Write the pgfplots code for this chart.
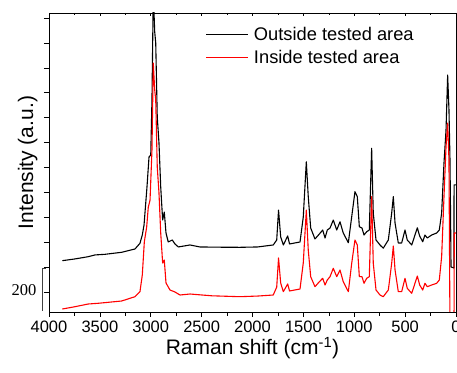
\documentclass[border=0pt]{standalone}
\usepackage{pgfplots}
\pgfplotsset{compat=1.18}
\usepackage{fontspec}
\setmainfont{Liberation Sans}
\newfontfamily\seriffont{Liberation Serif}
\begin{document}
\begin{tikzpicture}
\begin{axis}[name=ax, scale only axis, width=407pt, height=299pt,
  x dir=reverse, xmin=0, xmax=4000, ymin=-80, ymax=1120,
  xtick={0,500,...,4000}, minor xtick={250,750,...,3750},
  ytick={0,100,...,1100}, yticklabels={},
  xtick pos=bottom, ytick pos=left, tick align=outside,
  major tick length=5pt, minor tick length=4pt,
  /pgf/number format/assume math mode=true,
  /pgf/number format/1000 sep={},
  tick label style={font=\fontsize{16.5}{18}\selectfont},
  xticklabel style={yshift=0pt},
  xlabel={Raman shift (cm\textsuperscript{-1})}, ylabel={Intensity (a.u.)},
  label style={font=\fontsize{21}{24}\selectfont},
  xlabel style={yshift=2pt},
  ylabel style={yshift=-4pt},
  legend style={draw=none, fill=none, at={(0.385,0.96)}, anchor=north west,
    font=\fontsize{18.3}{21}\selectfont, row sep=4pt, inner sep=0pt},
  legend cell align=left,
  legend image code/.code={\draw[#1] (0pt,0pt) -- (42pt,0pt); \path (45pt,0pt);},
  axis line style={line width=0.7pt},
  every tick/.style={line width=0.6pt},
]
\addplot[black, line width=1.1pt, line join=round] coordinates {
(3869,126) (3744,133) (3614,142) (3548,149) (3450,151.5) (3286,159.6) (3155,172.8)
(3106,195.7) (3083,229) (3066,269) (3037,421.6) (3017,542) (3000,550) (2988,771)
(2975,1200) (2961,1044) (2951,999.5) (2936,702.5) (2919,598) (2902,421.6) (2883,289)
(2867,321) (2850,237) (2828,201) (2788,209) (2762,193) (2729,181) (2614,189) (2516,181)
(2300,180) (2123,179.6) (1950,181) (1796,189) (1762,209) (1744,329) (1723,221) (1697,189)
(1654,225) (1636,193) (1533,201) (1501,301) (1471,523) (1452,383) (1428,257) (1386,213)
(1343,233) (1310,249) (1287,217) (1265,249) (1238,257) (1206,289) (1172,249) (1140,282)
(1108,237) (1058,198) (1025,302) (993,403) (970,383) (950,262) (924,257) (904,229)
(878,242) (852,249) (829,577) (813,317) (786,209) (747,189) (715,176) (665,209)
(632,317) (616,383) (599,277) (567,197) (534,197) (501,249) (479,209) (435,189)
(380,258) (357,225) (327,202) (305,229) (282,217) (239,229) (190,237) (164,249)
(141,317) (118,518) (98,650) (82,871) (69,731) (59,530) (52,249) (49,100.6)
(20,96.6) (19,430) (0,430)
};
\addlegendentry{Outside tested area}
\addplot[red, line width=1.1pt, line join=round] coordinates {
(3869,-68) (3744,-58.7) (3614,-47.9) (3515,-45) (3286,-35.9) (3155,-18.6) (3106,1.5)
(3083,68.5) (3063,202) (3040,261) (3024,341) (3007,369) (2988,570) (2975,919)
(2961,811) (2951,771) (2936,502) (2919,397.5) (2902,237) (2883,116.6) (2867,128.7)
(2850,36.4) (2811,8.3) (2762,0.3) (2713,-11.8) (2614,-7.8) (2400,-15) (2123,-18.6)
(1950,-16) (1796,-11.8) (1762,20) (1744,136.7) (1723,36.4) (1697,1.5) (1654,32.4)
(1636,4.3) (1533,12.3) (1501,116.6) (1471,329) (1452,168.8) (1428,61.7) (1386,21.5)
(1343,41.6) (1310,55.2) (1287,28.4) (1265,48.4) (1238,61.7) (1206,95.4) (1172,61.7)
(1140,88.5) (1108,41.6) (1058,1.5) (1025,115.4) (993,209) (970,189) (950,61.7)
(924,61.7) (904,35.2) (878,55.2) (852,61.7) (829,383) (813,115.4) (786,8.3)
(747,-11.8) (715,-18.6) (665,8.3) (632,115.4) (616,184.9) (599,88.5) (567,1.5)
(534,1.5) (501,55.2) (479,15.1) (435,-5) (380,64.5) (357,28.4) (327,8.3) (305,35.2)
(282,21.5) (239,28.4) (190,35.2) (164,48.4) (141,141.9) (118,382.7) (98,583)
(82,678) (69,530) (59,-150) (52,-200) (20,-200) (17,237) (0,237)
};
\addlegendentry{Inside tested area}
\end{axis}
\begin{axis}[at={(ax.south west)}, anchor=south west, scale only axis,
  width=407pt, height=299pt, x dir=reverse, xmin=0, xmax=4000, ymin=-80, ymax=1120,
  axis x line*=top, axis y line=none,
  xtick={0,500,...,4000}, minor xtick={250,750,...,3750}, xticklabels={},
  tick align=inside, major tick length=3pt, minor tick length=2pt,
  axis line style={line width=0.7pt}, every tick/.style={line width=0.6pt}]
\end{axis}
\draw[black!75, line width=0.8pt] ([xshift=-7pt,yshift=1pt]ax.south west) --
  ([xshift=-7pt,yshift=44pt]ax.south west) -- ([xshift=-3pt,yshift=44pt]ax.south west);
\node[font=\seriffont\fontsize{16.5}{18}\selectfont] at ([xshift=-25pt,yshift=22pt]ax.south west) {200};
\pgfresetboundingbox
\path[use as bounding box] ([xshift=-49pt,yshift=-61pt]ax.south west) rectangle ([xshift=1pt,yshift=13pt]ax.north east);
\end{tikzpicture}
\end{document}
